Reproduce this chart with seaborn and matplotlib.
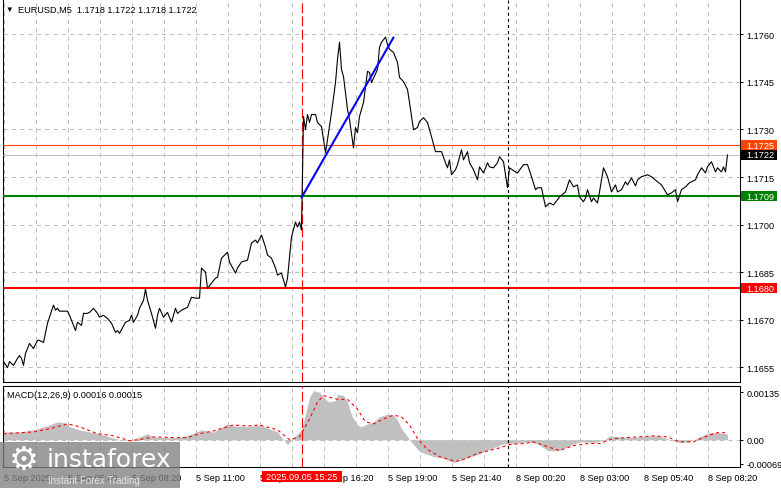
import matplotlib
matplotlib.use("Agg")
import matplotlib.pyplot as plt
import matplotlib.transforms as mtransforms
from matplotlib import font_manager
from matplotlib.patches import Rectangle
import pandas as pd
import seaborn as sns

# x = number of the 5-minute bar, counted from 5 Sep 03:00 (weekend removed)
PRICE_BARS = [
    0, 2, 3, 5, 7, 8, 9, 10, 11, 12,
    13, 15, 17, 18, 20, 22, 23, 25, 26, 27,
    28, 32, 33, 36, 37, 39, 40, 42, 43, 45,
    47, 48, 50, 52, 54, 56, 57, 58, 61, 63,
    64, 65, 67, 68, 70, 71, 72, 74, 76, 77,
    78, 80, 82, 84, 86, 87, 89, 91, 92, 94,
    96, 98, 99, 101, 102, 104, 106, 107, 109, 112,
    113, 116, 117, 119, 122, 124, 126, 127, 129, 131,
    132, 134, 136, 137, 139, 141, 142, 144, 146, 147,
    148, 149, 150, 151, 152, 153, 154, 156, 157, 159,
    160, 161, 162, 164, 166, 167, 168, 169, 170, 172,
    173, 175, 176, 177, 178, 180, 182, 183, 184, 187,
    188, 189, 191, 192, 193, 195, 197, 198, 200, 202,
    203, 205, 207, 208, 210, 212, 214, 216, 219, 221,
    222, 223, 224, 226, 227, 229, 230, 232, 233, 235,
    237, 238, 240, 242, 243, 245, 247, 248, 250, 251,
    252, 253, 256, 257, 260, 262, 264, 266, 267, 269,
    271, 273, 275, 278, 281, 283, 285, 287, 288, 290,
    291, 292, 294, 295, 297, 298, 300, 302, 304, 306,
    307, 309, 311, 312, 314, 316, 317, 319, 322, 324,
    327, 329, 332, 334, 336, 337, 339, 341, 343, 346,
    347, 349, 351, 352, 354, 356, 357, 359, 360, 361, 362,
]
PRICE_CLOSE = [
    1.16568, 1.16549, 1.16568, 1.16556, 1.16578, 1.16587, 1.16578, 1.16556, 1.16594, 1.16609,
    1.16625, 1.16609, 1.16635, 1.16635, 1.16628, 1.16689, 1.16708, 1.16746, 1.16730, 1.16736,
    1.16727, 1.16727, 1.16714, 1.16666, 1.16692, 1.16682, 1.16720, 1.16720, 1.16723, 1.16736,
    1.16720, 1.16708, 1.16714, 1.16704, 1.16689, 1.16660, 1.16666, 1.16657, 1.16692, 1.16698,
    1.16714, 1.16692, 1.16714, 1.16736, 1.16761, 1.16796, 1.16761, 1.16720, 1.16673, 1.16714,
    1.16736, 1.16708, 1.16723, 1.16692, 1.16736, 1.16720, 1.16730, 1.16736, 1.16739, 1.16771,
    1.16768, 1.16768, 1.16863, 1.16850, 1.16799, 1.16815, 1.16831, 1.16834, 1.16894, 1.16913,
    1.16882, 1.16847, 1.16863, 1.16882, 1.16888, 1.16942, 1.16951, 1.16942, 1.16967, 1.16929,
    1.16904, 1.16894, 1.16863, 1.16841, 1.16847, 1.16803, 1.16831, 1.16961, 1.17008, 1.16992,
    1.17008, 1.16983, 1.17341, 1.17299, 1.17347, 1.17322, 1.17347, 1.17347, 1.17322, 1.17309,
    1.17268, 1.17227, 1.17268, 1.17353, 1.17448, 1.17521, 1.17575, 1.17489, 1.17467, 1.17363,
    1.17331, 1.17242, 1.17306, 1.17290, 1.17341, 1.17385, 1.17483, 1.17480, 1.17448, 1.17489,
    1.17559, 1.17575, 1.17591, 1.17568, 1.17553, 1.17543, 1.17511, 1.17464, 1.17451, 1.17426,
    1.17385, 1.17299, 1.17306, 1.17325, 1.17337, 1.17322, 1.17277, 1.17230, 1.17230, 1.17195,
    1.17179, 1.17204, 1.17157, 1.17173, 1.17189, 1.17236, 1.17204, 1.17230, 1.17195, 1.17173,
    1.17141, 1.17182, 1.17163, 1.17195, 1.17182, 1.17179, 1.17195, 1.17214, 1.17198, 1.17157,
    1.17116, 1.17179, 1.17166, 1.17163, 1.17189, 1.17189, 1.17151, 1.17110, 1.17116, 1.17116,
    1.17056, 1.17068, 1.17062, 1.17087, 1.17103, 1.17141, 1.17119, 1.17125, 1.17087, 1.17072,
    1.17084, 1.17110, 1.17072, 1.17084, 1.17068, 1.17103, 1.17179, 1.17151, 1.17103, 1.17125,
    1.17103, 1.17110, 1.17135, 1.17125, 1.17147, 1.17122, 1.17141, 1.17151, 1.17157, 1.17151,
    1.17135, 1.17125, 1.17094, 1.17100, 1.17110, 1.17072, 1.17110, 1.17119, 1.17132, 1.17141,
    1.17157, 1.17179, 1.17163, 1.17182, 1.17198, 1.17166, 1.17179, 1.17166, 1.17182, 1.17166, 1.17220,
]

HIST_BARS = [
    0, 8, 15, 23, 27, 31, 33, 38, 43, 48,
    53, 58, 63, 68, 72, 75, 80, 87, 93, 99,
    105, 112, 115, 122, 128, 133, 137, 140, 142, 144,
    147, 149, 152, 153, 155, 158, 161, 163, 166, 167,
    170, 172, 174, 177, 179, 182, 185, 188, 192, 195,
    197, 199, 202, 203, 205, 208, 215, 220, 225, 230,
    237, 243, 250, 255, 262, 267, 272, 278, 283, 288,
    295, 300, 303, 308, 315, 322, 328, 333, 338, 343,
    348, 353, 358, 362,
]
HIST_VALUES = [
    0.00022, 0.00022, 0.00028, 0.00042, 0.00051, 0.00048, 0.00037, 0.00028, 0.00022, 0.00017,
    0.00008, 0.0, -0.00003, 0.00008, 0.00017, 0.00008, 0.00006, 0.00006, 0.00014, 0.00028,
    0.00022, 0.00045, 0.00039, 0.00037, 0.00042, 0.00031, 0.00022, 0.0, -0.00014, 0.0,
    0.00017, 0.00028, 0.00098, 0.00121, 0.00140, 0.00135, 0.00115, 0.00107, 0.00112, 0.00129,
    0.00126, 0.00107, 0.00070, 0.00042, 0.00037, 0.00045, 0.00051, 0.00065, 0.00073, 0.00070,
    0.00056, 0.00031, 0.00008, 0.0, -0.00014, -0.00034, -0.00048, -0.00053, -0.00065, -0.00056,
    -0.00042, -0.00028, -0.00011, -0.00011, -0.00006, -0.00011, -0.00031, -0.00031, -0.00017, -0.00006,
    -0.00008, -0.00003, 0.00011, 0.00008, 0.00006, 0.00011, 0.00011, 0.0, -0.00008, -0.00006,
    0.00008, 0.00020, 0.00020, 0.00016,
]

SIGNAL_BARS = [
    0, 15, 23, 32, 38, 47, 55, 63, 68, 75,
    85, 92, 98, 105, 115, 122, 128, 137, 143, 148,
    153, 157, 160, 163, 167, 172, 177, 181, 185, 190,
    195, 199, 203, 207, 212, 218, 226, 230, 237, 247,
    253, 260, 265, 272, 278, 285, 292, 298, 305, 312,
    318, 325, 332, 338, 345, 352, 357, 361,
]
SIGNAL_VALUES = [
    0.00017, 0.00022, 0.00031, 0.00045, 0.00037, 0.00017, 0.00011, -0.00003, 0.0, 0.00008,
    0.00006, 0.00006, 0.00017, 0.00025, 0.00042, 0.00039, 0.00042, 0.00028, 0.0, 0.00008,
    0.00059, 0.00107, 0.00126, 0.00121, 0.00115, 0.00115, 0.00087, 0.00051, 0.00045, 0.00059,
    0.00070, 0.00065, 0.00042, 0.00003, -0.00028, -0.00048, -0.00062, -0.00056, -0.00039, -0.00025,
    -0.00014, -0.00011, -0.00006, -0.00020, -0.00031, -0.00017, -0.00011, -0.00011, 0.00003, 0.00006,
    0.00008, 0.00011, 0.00008, -0.00006, -0.00006, 0.00011, 0.00020, 0.00020,
]

PRICE_TICKS = [1.1655, 1.1670, 1.1685, 1.1700, 1.1715, 1.1730, 1.1745, 1.1760]
MACD_TICKS = [0.00135, 0.0, -0.00069]
MACD_TICK_LABELS = ["0.00135", "0.00", "-0.00069"]
TIME_TICKS = [0, 32, 64, 96, 128, 160, 192, 224, 256, 288, 320, 352]
TIME_LABELS = [
    "5 Sep 2025", "5 Sep 05:40", "5 Sep 08:20", "5 Sep 11:00", "5 Sep 13:40",
    "5 Sep 16:20", "5 Sep 19:00", "5 Sep 21:40", "8 Sep 00:20", "8 Sep 03:00",
    "8 Sep 05:40", "8 Sep 08:20",
]

RESISTANCE = 1.1725
BID = 1.1722
SUPPORT = 1.1709
LOW_LEVEL = 1.1680
TREND_BARS = [149, 195]
TREND_PRICES = [1.17085, 1.17590]
EVENT_BAR = 149
EVENT_LABEL = "2025.09.05 15:25"
WEEK_START_BAR = 252
TITLE = "EURUSD,M5  1.1718 1.1722 1.1718 1.1722"
MACD_TITLE = "MACD(12,26,9) 0.00016 0.00015"

assert len(PRICE_BARS) == len(PRICE_CLOSE)
assert len(HIST_BARS) == len(HIST_VALUES)
assert len(SIGNAL_BARS) == len(SIGNAL_VALUES)

W, H = 781, 489
GRID = "#c0c0c0"

sns.set_theme(style="white")
names = {f.name for f in font_manager.fontManager.ttflist}
if "Liberation Sans Narrow" in names:
    UI_FONT, FS = "Liberation Sans Narrow", 7.6
else:
    UI_FONT, FS = "Liberation Sans", 6.6
plt.rcParams["font.family"] = [UI_FONT, "DejaVu Sans"]
plt.rcParams["lines.scale_dashes"] = False
plt.rcParams["axes.edgecolor"] = "black"
plt.rcParams["axes.linewidth"] = 0.75


def px_rect(x0, y0, x1, y1):
    # pixel box with origin at top-left -> figure fraction
    return [x0 / W, 1 - y1 / H, (x1 - x0) / W, (y1 - y0) / H]


fig = plt.figure(figsize=(W / 100, H / 100), dpi=100)
fig.patch.set_facecolor("white")
ax = fig.add_axes(px_rect(2.7, 0, 740, 383))
ax_m = fig.add_axes(px_rect(2.7, 386.5, 740, 468))
XLIM = (-0.4, 368.25)

# --- price panel ---
price = pd.DataFrame({"bar": PRICE_BARS, "close": PRICE_CLOSE})
sns.lineplot(data=price, x="bar", y="close", ax=ax, color="black",
             linewidth=0.8, zorder=6)
ax.set_xlim(*XLIM)
ax.set_ylim(1.165036, 1.177113)
ax.yaxis.tick_right()
ax.set_yticks(PRICE_TICKS)
ax.set_yticklabels([f"{t:.4f}" for t in PRICE_TICKS])
ax.set_xticks(range(0, 368, 16))
ax.tick_params(axis="x", length=0, labelbottom=False)
ax.tick_params(axis="y", length=2.3, width=0.75, pad=2.2, labelsize=FS,
               colors="black", direction="out")
ax.grid(True, color=GRID, linestyle=(0, (3, 3)), linewidth=0.75)
ax.spines["top"].set_visible(False)
ax.set_xlabel("")
ax.set_ylabel("")

ax.axhline(BID, color=GRID, linewidth=0.75, zorder=3)
ax.axhline(RESISTANCE, color="#ff4500", linewidth=0.8, zorder=4)
ax.axhline(SUPPORT, color="#008000", linewidth=1.5, zorder=4)
ax.axhline(LOW_LEVEL, color="#ff0000", linewidth=1.5, zorder=4)
ax.plot(TREND_BARS, TREND_PRICES, color="#0000ff", linewidth=1.5, zorder=7)

for a in (ax, ax_m):
    a.axvline(EVENT_BAR, color="#ff0000", linestyle=(0, (7, 2.5)),
              linewidth=0.8, zorder=5)
    a.axvline(WEEK_START_BAR, color="black", linestyle=(0, (2.2, 2.2)),
              linewidth=0.8, zorder=5)

# coloured price labels on the right scale
ppu = 383 / (1.177113 - 1.165036)
yt = ax.get_yaxis_transform()
for value, color in [(RESISTANCE, "#ff4500"), (BID, "black"),
                     (SUPPORT, "#008000"), (LOW_LEVEL, "#ff0000")]:
    box_h = 10.5 / ppu
    ax.add_patch(Rectangle((1 + 1.5 / 737.3, value - box_h / 2), 36 / 737.3, box_h,
                           transform=yt, facecolor=color, edgecolor="none",
                           clip_on=False, zorder=10))
    ax.text(1 + 6 / 737.3, value, f"{value:.4f}", transform=yt, ha="left",
            va="center", color="white", fontsize=FS, clip_on=False, zorder=11)

# --- MACD panel ---
hist = pd.DataFrame({"bar": HIST_BARS, "value": HIST_VALUES})
ax_m.fill_between(hist["bar"], 0, hist["value"], color=GRID, linewidth=0,
                  zorder=2)
signal = pd.DataFrame({"bar": SIGNAL_BARS, "value": SIGNAL_VALUES})
sns.lineplot(data=signal, x="bar", y="value", ax=ax_m, color="#ff0000",
             linewidth=0.8, linestyle=(0, (2.2, 2.2)), zorder=4)
ax_m.axhline(0, color=GRID, linestyle=(0, (3, 3)), linewidth=0.75, zorder=1)
ax_m.set_xlim(*XLIM)
ax_m.set_ylim(-0.000778, 0.001544)
ax_m.yaxis.tick_right()
ax_m.set_yticks(MACD_TICKS)
ax_m.set_yticklabels(MACD_TICK_LABELS)
ax_m.tick_params(axis="y", length=2.3, width=0.75, pad=2.2, labelsize=FS,
                 colors="black", direction="out")
ax_m.set_xticks(TIME_TICKS)
ax_m.set_xticklabels(TIME_LABELS, ha="left")
ax_m.set_xticks(range(0, 368, 16), minor=True)
ax_m.tick_params(axis="x", which="major", length=3, width=0.75, pad=1.5,
                 labelsize=FS, colors="black", direction="out")
ax_m.tick_params(axis="x", which="minor", length=0)
ax_m.grid(True, axis="x", which="both", color=GRID, linestyle=(0, (3, 3)),
          linewidth=0.75)
ax_m.grid(False, axis="y")
ax_m.set_xlabel("")
ax_m.set_ylabel("")

# time marker box on the bottom scale
bt = mtransforms.blended_transform_factory(ax_m.transData, fig.transFigure)
ax_m.add_patch(Rectangle((EVENT_BAR - 20, 1 - 483 / H), 40, 11.5 / H,
                         transform=bt, facecolor="#ff0000", edgecolor="none",
                         clip_on=False, zorder=10))
ax_m.text(EVENT_BAR, 1 - 477.5 / H, EVENT_LABEL, transform=bt, ha="center",
          va="center", color="white", fontsize=FS, clip_on=False, zorder=11)

# --- header texts ---
fig.text(5 / W, 1 - 10.5 / H, "▼", fontsize=5.5, color="black", va="center")
fig.text(18 / W, 1 - 10.5 / H, TITLE, fontsize=FS, color="black", va="center")
fig.text(7 / W, 1 - 395.7 / H, MACD_TITLE, fontsize=FS, color="black",
         va="center")

# --- watermark ---
fig.patches.append(Rectangle((0, 0), 180 / W, 46 / H, transform=fig.transFigure,
                             facecolor="#808080", alpha=0.78, edgecolor="none",
                             zorder=20))
fig.text(24 / W, 1 - 460 / H, "⚙", fontsize=24, color="white", ha="center",
         va="center", family="DejaVu Sans", zorder=21)
fig.text(47 / W, 1 - 467 / H, "instaforex", fontsize=18, color="white",
         va="baseline", family="DejaVu Sans", zorder=21)
fig.text(48 / W, 1 - 481 / H, "Instant Forex Trading", fontsize=7,
         color="#e6e6e6", va="center", family="Liberation Sans", zorder=21)

fig.savefig("out.png", dpi=100)
